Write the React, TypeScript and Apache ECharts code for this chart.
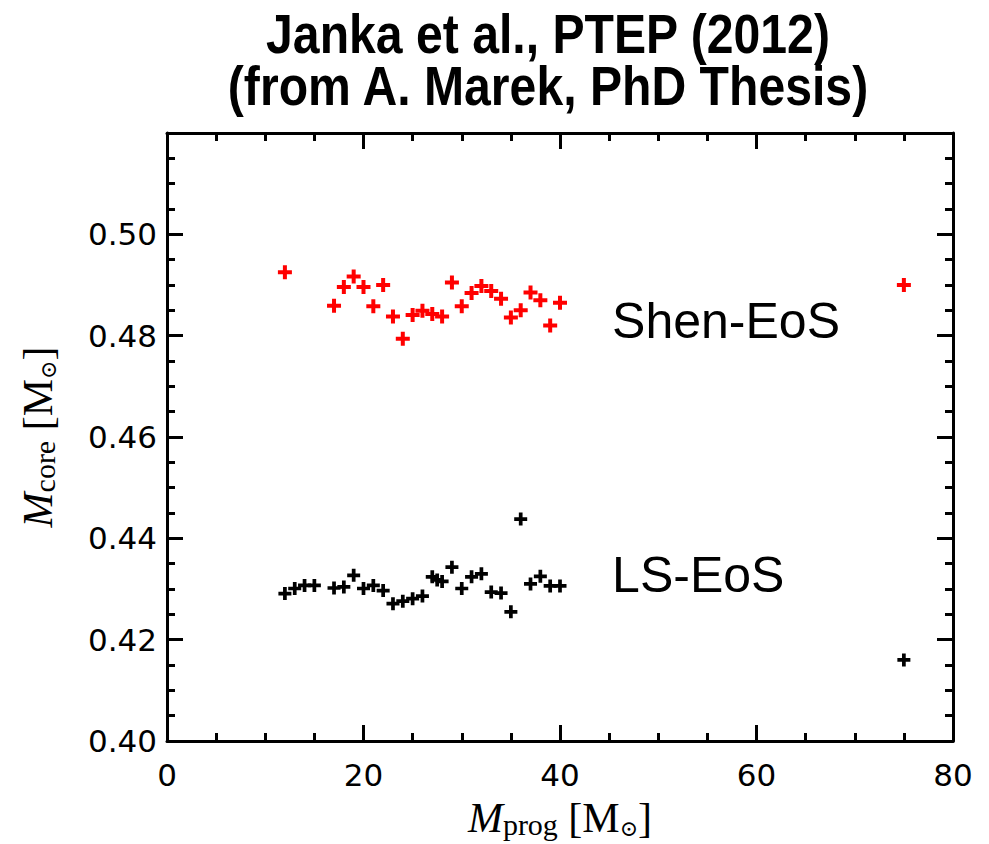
import React, { useEffect, useRef } from "react";
import * as echarts from "echarts";

const shenMass = [12, 17, 18, 19, 20, 21, 22, 23, 24, 25, 26, 27, 28, 29, 30, 31, 32, 33, 34, 35, 36, 37, 38, 39, 40, 75];
const shenCore = [0.4925, 0.4859, 0.4896, 0.4917, 0.4896, 0.4858, 0.49, 0.4838, 0.4794, 0.4841, 0.4849, 0.4843, 0.4838, 0.4905, 0.4858, 0.4884, 0.4898, 0.4888, 0.4873, 0.4836, 0.485, 0.4885, 0.487, 0.482, 0.4865, 0.49];

const lsMass = [12, 13, 14, 15, 17, 18, 19, 20, 21, 22, 23, 24, 25, 26, 27, 27.5, 28, 29, 30, 31, 32, 33, 34, 35, 36, 37, 38, 39, 40, 75];
const lsCore = [0.4291, 0.4301, 0.4307, 0.4307, 0.4302, 0.4304, 0.4327, 0.4301, 0.4307, 0.4297, 0.4271, 0.4276, 0.4281, 0.4286, 0.4324, 0.4318, 0.4315, 0.4343, 0.4301, 0.4324, 0.433, 0.4294, 0.4292, 0.4255, 0.4438, 0.431, 0.4325, 0.4306, 0.4306, 0.416];

const titleLines = ["Janka et al., PTEP (2012)", "(from A. Marek, PhD Thesis)"];
const seriesNames = ["Shen-EoS", "LS-EoS"];
const labelAnchors = [
  [45.3, 0.4829],
  [45.3, 0.4327],
];

const PLUS = "path://M5,0H9V5H14V9H9V14H5V9H0V5H5Z";

const serif = "'Liberation Serif', 'DejaVu Serif', serif";
const nameRich = {
  m: { fontFamily: serif, fontStyle: "italic", fontSize: 42, lineHeight: 48, verticalAlign: "bottom", color: "#000" },
  sub: { fontFamily: serif, fontSize: 30, lineHeight: 34, verticalAlign: "bottom", color: "#000" },
  n: { fontFamily: serif, fontSize: 42, lineHeight: 48, verticalAlign: "bottom", color: "#000" },
  sun: { fontFamily: "'DejaVu Serif', 'DejaVu Sans', serif", fontSize: 22, lineHeight: 22, verticalAlign: "bottom", color: "#000" },
};

export default function App() {
  const ref = useRef<HTMLDivElement>(null);
  useEffect(() => {
    if (!ref.current) return;
    const chart = echarts.init(ref.current, null, { renderer: "svg" });
    const axisLine = { show: true, onZero: false, lineStyle: { color: "#000", width: 3 } };
    const tick = { show: true, inside: true, length: 16, lineStyle: { color: "#000", width: 3 } };
    const minor = { show: true, splitNumber: 4, length: 8, lineStyle: { color: "#000", width: 3 } };
    const tickFont = { fontFamily: "'DejaVu Sans', sans-serif", fontSize: 31, color: "#000" };
    chart.setOption({
      animation: false,
      backgroundColor: "#fff",
      grid: { left: 167, right: 36, top: 133, bottom: 99, containLabel: false },
      xAxis: [
        {
          type: "value",
          min: 0,
          max: 80,
          interval: 20,
          position: "bottom",
          axisLine,
          axisTick: tick,
          minorTick: minor,
          splitLine: { show: false },
          axisLabel: { margin: 18, ...tickFont },
          name: "{m|M}{sub|prog}{n| [M}{sun|⊙}{n|]}",
          nameLocation: "middle",
          nameGap: 50,
          nameTextStyle: { rich: nameRich },
        },
        {
          type: "value",
          min: 0,
          max: 80,
          interval: 20,
          position: "top",
          axisLine,
          axisTick: tick,
          minorTick: minor,
          splitLine: { show: false },
          axisLabel: { show: false },
        },
      ],
      yAxis: [
        {
          type: "value",
          min: 0.4,
          max: 0.52,
          interval: 0.02,
          position: "left",
          axisLine,
          axisTick: tick,
          minorTick: minor,
          splitLine: { show: false },
          axisLabel: { margin: 10, showMaxLabel: false, formatter: (v: number) => v.toFixed(2), ...tickFont },
          name: "{m|M}{sub|core}{n| [M}{sun|⊙}{n|]}",
          nameLocation: "middle",
          nameRotate: 90,
          nameGap: 108,
          nameTextStyle: { rich: nameRich },
        },
        {
          type: "value",
          min: 0.4,
          max: 0.52,
          interval: 0.02,
          position: "right",
          axisLine,
          axisTick: tick,
          minorTick: minor,
          splitLine: { show: false },
          axisLabel: { show: false },
        },
      ],
      series: [
        {
          name: seriesNames[0],
          type: "scatter",
          symbol: PLUS,
          symbolSize: 14,
          itemStyle: { color: "#ff0000", opacity: 1 },
          data: shenMass.map((m, i) => [m, shenCore[i]]),
        },
        {
          name: seriesNames[1],
          type: "scatter",
          symbol: PLUS,
          symbolSize: 13,
          itemStyle: { color: "#000000", opacity: 1 },
          data: lsMass.map((m, i) => [m, lsCore[i]]),
        },
      ],
    });
    const labelGraphics = seriesNames.map((name, i) => {
      const p = chart.convertToPixel({ gridIndex: 0 }, labelAnchors[i]) as number[];
      return {
        type: "text",
        x: p[0],
        y: p[1],
        silent: true,
        style: {
          text: name,
          textAlign: "left",
          textVerticalAlign: "middle",
          fontFamily: "'Liberation Sans', Arial, sans-serif",
          fontSize: 50,
          fill: "#000",
        },
      };
    });
    chart.setOption({
      graphic: [
        {
          type: "text",
          x: 548,
          y: 8,
          scaleX: 0.86,
          silent: true,
          style: {
            text: titleLines.join("\n"),
            textAlign: "center",
            fontFamily: "'Liberation Sans', sans-serif",
            fontWeight: "bold",
            fontSize: 56,
            lineHeight: 52,
            fill: "#000",
          },
        },
        ...labelGraphics,
      ],
    });
    return () => chart.dispose();
  }, []);
  return <div ref={ref} style={{ width: 989, height: 844, position: "absolute", left: 0, top: 0 }} />;
}
